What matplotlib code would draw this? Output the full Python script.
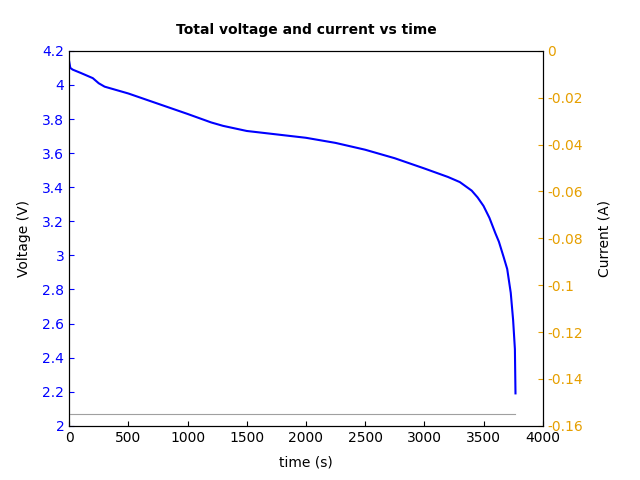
import matplotlib
matplotlib.use('Agg')
import matplotlib.pyplot as plt

# Voltage curve
time_v = [0, 10, 30, 100, 200, 250, 300, 500, 750, 1000, 1200, 1300, 1500, 1750,
          2000, 2250, 2500, 2750, 3000, 3200, 3300, 3400, 3450, 3500, 3550, 3600,
          3630, 3670, 3700, 3730, 3750, 3765, 3770]
voltage = [4.14, 4.10, 4.09, 4.07, 4.04, 4.01, 3.99, 3.95, 3.89, 3.83, 3.78, 3.76,
           3.73, 3.71, 3.69, 3.66, 3.62, 3.57, 3.51, 3.46, 3.43, 3.38, 3.34, 3.29,
           3.22, 3.13, 3.08, 2.99, 2.92, 2.78, 2.62, 2.45, 2.19]

# Current (constant discharge)
time_c = [0, 3770]
current = [-0.155, -0.155]

fig, ax = plt.subplots(figsize=(6.4, 4.8), dpi=100)
fig.subplots_adjust(left=0.108, right=0.848, top=0.894, bottom=0.113)

ax.plot(time_v, voltage, color='blue', linewidth=1.5)
ax.set_xlim(0, 4000)
ax.set_ylim(2, 4.2)
ax.set_xticks(range(0, 4001, 500))
ax.set_yticks([2, 2.2, 2.4, 2.6, 2.8, 3, 3.2, 3.4, 3.6, 3.8, 4, 4.2])
ax.set_yticklabels(['2', '2.2', '2.4', '2.6', '2.8', '3', '3.2', '3.4', '3.6', '3.8', '4', '4.2'])
ax.tick_params(axis='y', colors='blue', direction='in', labelcolor='blue')
ax.tick_params(axis='x', direction='in')
ax.set_xlabel('time (s)', labelpad=8)
ax.set_ylabel('Voltage (V)', labelpad=8)
ax.set_title('Total voltage and current vs time', fontweight='bold', fontsize=10, pad=12)

ax2 = ax.twinx()
ax2.plot(time_c, current, color='#a0a0a0', linewidth=0.8)
ax2.set_ylim(-0.16, 0)
ax2.set_yticks([-0.16, -0.14, -0.12, -0.1, -0.08, -0.06, -0.04, -0.02, 0])
ax2.set_yticklabels(['-0.16', '-0.14', '-0.12', '-0.1', '-0.08', '-0.06', '-0.04', '-0.02', '0'])
ax2.tick_params(axis='y', colors='#e69f00', direction='in', labelcolor='#e69f00')
ax2.set_ylabel('Current (A)', labelpad=10)

plt.savefig('out.png', dpi=100)
